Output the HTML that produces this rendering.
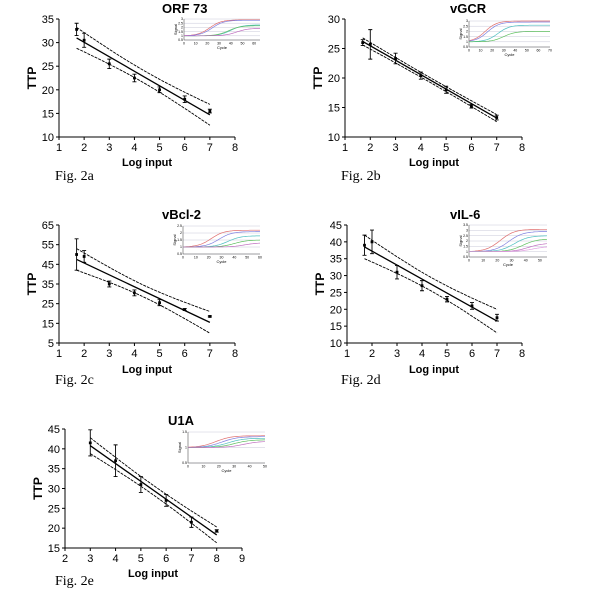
<!DOCTYPE html>
<html><head><meta charset="utf-8">
<style>
body{margin:0;background:#fff;width:600px;height:600px;overflow:hidden}
svg{display:block}
text{font-family:"Liberation Sans",Arial,sans-serif;fill:#000}
.fig{font-family:"Liberation Serif",serif;font-size:14px}
</style></head>
<body>
<svg id="s" width="600" height="600"></svg>
<script>
// ---- data ----
const titles=["ORF 73","vGCR","vBcl-2","vIL-6","U1A"];
const figLabels=["Fig. 2a","Fig. 2b","Fig. 2c","Fig. 2d","Fig. 2e"];
const xA=[1.7,2,3,4,5,6,7];
const yA=[32.8,30.5,25.5,22.5,20,18,15.5];
const eA=[1.3,1.5,1,0.8,0.6,0.7,0.4];
const yB=[26,25.7,23.3,20.4,18,15.2,13.3];
const eB=[0.5,2.5,0.9,0.6,0.6,0.3,0.4];
const yC=[50,49,35,30.5,25.5,22,18.5];
const eC=[8,3,1.5,1.5,1.5,0.5,0.3];
const yD=[39,40,31,27,23,21,17.5];
const eD=[3,3.5,2,1.5,0.8,1,1];
const xE=[3,4,5,6,7,8];
const yE=[41.5,37,31,27,21.5,19.3];
const eE=[3.3,4,2,1.5,1.3,0.3];
const fitA=[31,14.7], fitB=[26.2,13.2], fitC=[47.5,15.5], fitD=[38.5,16.5], fitE=[40.8,18.3];
const bandA=[2.2,1.3], bandB=[0.6,0.4], bandC=[5.5,3], bandD=[3.5,2], bandE=[2,1.2];
const yTicksA=[10,15,20,25,30,35], yTicksB=[10,15,20,25,30], yTicksC=[5,15,25,35,45,55,65], yTicksD=[10,15,20,25,30,35,40,45], yTicksE=[15,20,25,30,35,40,45];
const xTicks17=[1,2,3,4,5,6,7,8], xTicksE=[2,3,4,5,6,7,8,9];
// inset curve midpoints / plateaus
const insetMid=[[22,24,40,38,45],[14,16,25,30],[22,28,35,40,48],[22,28,32,38,42,45],[18,22,26,30,36]];
const insetTop=[[2.9,2.85,2.3,2.2,1.9],[3,2.9,2.6,2],[2.2,2.1,1.8,1.5,1.3],[3.1,2.9,2.5,2.2,1.8,1.5],[1.38,1.35,1.3,1.25,1.2]];
const colors=["#e07070","#8080e0","#50c0c0","#60c060","#c070c0","#e0a0e0"];

const panels=[
 {x:xA,y:yA,e:eA,fit:fitA,band:bandA,yt:yTicksA,xt:xTicks17,X0:59,X1:235,Y0:137,Y1:19,tx:162,ty:13,ix:176,iy:19,iw:84,ih:29,fig:[55,180],xl:[147,166],ymax:3,cyc:65,ymin:0.5},
 {x:xA,y:yB,e:eB,fit:fitB,band:bandB,yt:yTicksB,xt:xTicks17,X0:345,X1:522,Y0:137,Y1:19,tx:450,ty:13,ix:461,iy:21,iw:89,ih:34,fig:[341,180],xl:[434,166],ymax:3,cyc:70,ymin:0.5},
 {x:xA,y:yC,e:eC,fit:fitC,band:bandC,yt:yTicksC,xt:xTicks17,X0:59,X1:235,Y0:343,Y1:225,tx:162,ty:219,ix:175,iy:226,iw:85,ih:36,fig:[55,384],xl:[147,373],ymax:2.5,cyc:60,ymin:0.5},
 {x:xA,y:yD,e:eD,fit:fitD,band:bandD,yt:yTicksD,xt:xTicks17,X0:347,X1:522,Y0:343,Y1:225,tx:450,ty:219,ix:461,iy:225,iw:86,ih:40,fig:[341,384],xl:[434,373],ymax:3.5,cyc:55,ymin:0.5},
 {x:xE,y:yE,e:eE,fit:fitE,band:bandE,yt:yTicksE,xt:xTicksE,X0:65,X1:242,Y0:548,Y1:429,tx:168,ty:425,ix:180,iy:432,iw:85,ih:39,fig:[55,585],xl:[153,577],ymax:1.5,cyc:50,ymin:0.5}
];
const NS="http://www.w3.org/2000/svg", S=document.getElementById('s');
function el(t,a,p){const e=document.createElementNS(NS,t);for(const k in a)e.setAttribute(k,a[k]);(p||S).appendChild(e);return e;}

panels.forEach((P,pi)=>{
 const g=el('g',{});
 
 
 const xmin=P.xt[0],xmax=P.xt[P.xt.length-1],ymin=P.yt[0],ymax=P.yt[P.yt.length-1];
 const sx=v=>P.X0+(v-xmin)/(xmax-xmin)*(P.X1-P.X0);
 const sy=v=>P.Y0-(v-ymin)/(ymax-ymin)*(P.Y0-P.Y1);
 const ax=el('path',{d:`M${P.X0},${P.Y1}V${P.Y0}H${P.X1}`,stroke:'#000','stroke-width':1,fill:'none'},g);
 
 
 P.yt.forEach(v=>{
  el('line',{x1:P.X0-3,x2:P.X0,y1:sy(v),y2:sy(v),stroke:'#000'},g);
  const t=el('text',{x:P.X0-5,y:sy(v)+4,'text-anchor':'end','font-size':11},g);t.textContent=v;
  
  
 });
 P.xt.forEach(v=>{
  el('line',{x1:sx(v),x2:sx(v),y1:P.Y0,y2:P.Y0+3,stroke:'#000'},g);
  const t=el('text',{x:sx(v),y:P.Y0+14,'text-anchor':'middle','font-size':11},g);t.textContent=v;
  
  
 });
 const xl=el('text',{x:P.xl[0],y:P.xl[1],'text-anchor':'middle','font-size':11,'font-weight':'bold'},g);xl.textContent='Log input';
 
 
 const ym=(P.Y0+P.Y1)/2;
 const yl=el('text',{x:P.X0-23,y:ym,'text-anchor':'middle','font-size':12,'font-weight':'bold',transform:`rotate(-90 ${P.X0-23} ${ym})`},g);yl.textContent='TTP';
 
 
 const fl=el('text',{x:P.fig[0],y:P.fig[1],class:'fig'},g);fl.textContent=figLabels[pi];
 
 
 const tt=el('text',{x:P.tx,y:P.ty,'font-size':13,'font-weight':'bold'},g);tt.textContent=titles[pi];
 
 
 const x0=P.x[0],x1=P.x[P.x.length-1],xm=(x0+x1)/2;
 const fy=v=>P.fit[0]+(P.fit[1]-P.fit[0])*(v-x0)/(x1-x0);
 const half=(x1-x0)/2;
 const w=v=>{const u=(v-xm)/half;return Math.sqrt(P.band[1]*P.band[1]+(P.band[0]*P.band[0]-P.band[1]*P.band[1])*u*u);};
 const fitL=el('line',{x1:sx(x0),y1:sy(fy(x0)),x2:sx(x1),y2:sy(fy(x1)),stroke:'#000','stroke-width':1.3},g);
 
 
 [1,-1].forEach(sg=>{
  let d='';for(let i=0;i<=20;i++){const v=x0+(x1-x0)*i/20;d+=(i?'L':'M')+sx(v).toFixed(1)+','+sy(fy(v)+sg*w(v)).toFixed(1);}
  const b=el('path',{d,stroke:'#000','stroke-width':0.9,'stroke-dasharray':'3,1',fill:'none'},g);
  
  
 });
 P.x.forEach((v,i)=>{
  const cx=sx(v),cy=sy(P.y[i]),t=sy(P.y[i]+P.e[i]),b=sy(P.y[i]-P.e[i]);
  const eb=el('path',{d:`M${cx},${t}V${b}M${cx-2},${t}H${cx+2}M${cx-2},${b}H${cx+2}`,stroke:'#000','stroke-width':0.9},g);
  
  
  const p=el('rect',{x:cx-1.4,y:cy-1.4,width:2.8,height:2.8,fill:'#000'},g);
  
  
 });
 // inset
 const ig=el('g',{},g);
 
 
 const L=P.ix+8,R=P.ix+P.iw,T=P.iy,B=P.iy+P.ih-8;
 const isx=c=>L+c/P.cyc*(R-L), isy=v=>B-(v-P.ymin)/(P.ymax-P.ymin)*(B-T);
 for(let v=P.ymin;v<=P.ymax+1e-6;v+=0.5){const yy=isy(v);el('line',{x1:L,x2:R,y1:yy,y2:yy,stroke:'#c8c8d8','stroke-width':0.5},ig);
  const lt=el('text',{x:L-1,y:yy+1.2,'font-size':3.5,'text-anchor':'end'},ig);lt.textContent=v;}
 for(let c=0;c<=P.cyc;c+=10){const lt=el('text',{x:isx(c),y:B+4.5,'font-size':3.5,'text-anchor':'middle'},ig);lt.textContent=c;}
 el('path',{d:`M${L},${T}V${B}H${R}`,stroke:'#555','stroke-width':0.6,fill:'none'},ig);
 const it=el('text',{x:(L+R)/2,y:P.iy+P.ih+1,'font-size':4,'text-anchor':'middle'},ig);it.textContent='Cycle';
 const iyt=el('text',{x:P.ix+1,y:(T+B)/2,'font-size':4,'text-anchor':'middle',transform:`rotate(-90 ${P.ix+1} ${(T+B)/2})`},ig);iyt.textContent='Signal';
 insetMid[pi].forEach((m,j)=>{
  let d='';for(let c=0;c<=P.cyc;c+=1){const v=1+(insetTop[pi][j]-1)/(1+Math.exp(-(c-m)/5));d+=(c?'L':'M')+isx(c).toFixed(1)+','+isy(v).toFixed(1);}
  el('path',{d,stroke:colors[j%colors.length],'stroke-width':0.7,fill:'none'},ig);
 });
});
</script>
</body></html>
